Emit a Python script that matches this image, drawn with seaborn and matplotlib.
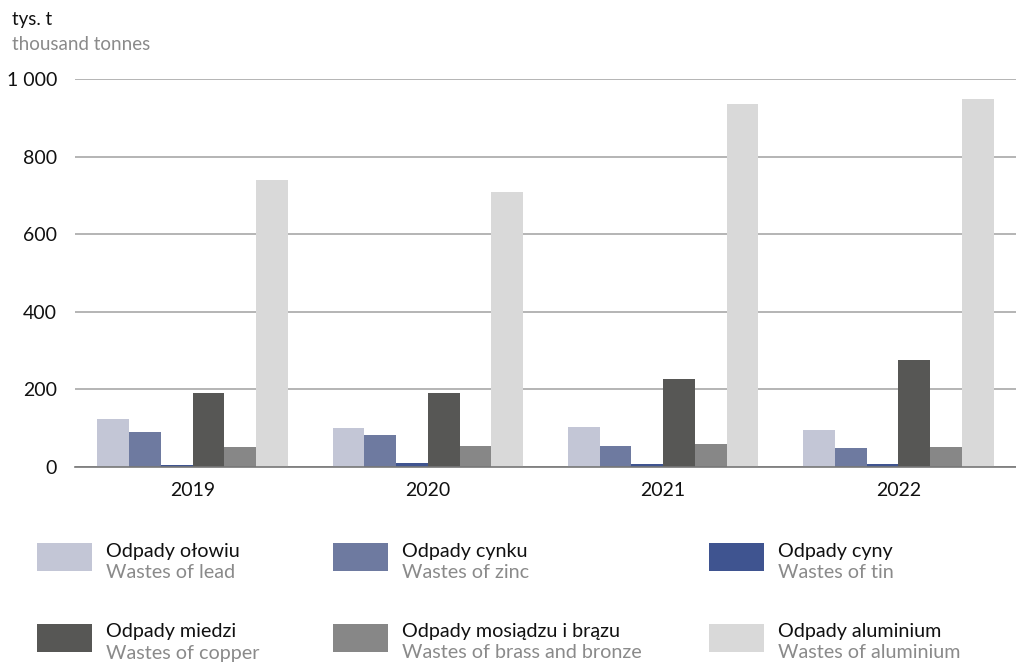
import matplotlib
matplotlib.use("Agg")
import matplotlib.pyplot as plt
import seaborn as sns
import pandas as pd
from matplotlib.patches import Rectangle
from matplotlib.ticker import FuncFormatter

years = ["2019", "2020", "2021", "2022"]
series_pl = ["Odpady ołowiu", "Odpady cynku", "Odpady cyny",
             "Odpady miedzi", "Odpady mosiądzu i brązu", "Odpady aluminium"]
series_en = ["Wastes of lead", "Wastes of zinc", "Wastes of tin",
             "Wastes of copper", "Wastes of brass and bronze", "Wastes of aluminium"]
lead = [122, 99, 102, 94]
zinc = [89, 81, 53, 48]
tin = [4, 9, 7, 7]
copper = [191, 189, 225, 276]
brass = [50, 53, 58, 50]
aluminium = [740, 709, 935, 948]
colors = ["#c3c6d6", "#6e7aa0", "#3f5490", "#575755", "#878787", "#d9d9d9"]

values = [lead, zinc, tin, copper, brass, aluminium]
rows = []
for s, vals in zip(series_pl, values):
    for y, v in zip(years, vals):
        rows.append({"year": y, "series": s, "value": v})
df = pd.DataFrame(rows)

sns.set_theme(style="white")
plt.rcParams["font.family"] = ["Lato", "DejaVu Sans"]

W, H = 1016, 662
fig = plt.figure(figsize=(W / 100, H / 100), dpi=100)
ax = fig.add_axes([75 / W, 1 - 466.7 / H, 1 - 75 / W, (466.7 - 79) / H])

sns.barplot(data=df, x="year", y="value", hue="series", order=years,
            hue_order=series_pl, palette=colors, width=0.81, saturation=1,
            ax=ax, legend=False, linewidth=0)

ax.set_ylim(0, 1000)
ax.set_xlim(-0.5, 3.5)
ax.set_yticks([0, 200, 400, 600, 800, 1000])
ax.yaxis.set_major_formatter(FuncFormatter(lambda v, p: f"{int(v):,}".replace(",", " ")))
ax.grid(axis="y", color="#a8a8a8", linewidth=1.2)
ax.set_axisbelow(True)
for sp in ["top", "right", "left"]:
    ax.spines[sp].set_visible(False)
ax.spines["bottom"].set_color("#777777")
ax.spines["bottom"].set_linewidth(1.2)
ax.set_xlabel("")
ax.set_ylabel("")
ax.tick_params(axis="y", length=0, labelsize=14, pad=13, labelcolor="#111111")
ax.tick_params(axis="x", which="major", length=0, labelsize=14, pad=11, labelcolor="#111111")
ax.set_xticks([0.5, 1.5, 2.5], minor=True)
ax.tick_params(axis="x", which="minor", length=9, direction="inout", color="#777777", width=1.2)

fig.text(12 / W, 1 - 20 / H, "tys. t", fontsize=13.5, color="#111111", va="center", ha="left")
fig.text(12 / W, 1 - 45 / H, "thousand tonnes", fontsize=13.5, color="#8a8a8a", va="center", ha="left")

col_x = [37, 333, 709]
row_y = [543, 624]
for i in range(6):
    r, c = divmod(i, 3)
    x0, y0 = col_x[c], row_y[r]
    fig.add_artist(Rectangle((x0 / W, 1 - (y0 + 28) / H), 55 / W, 28 / H,
                             transform=fig.transFigure, facecolor=colors[i],
                             edgecolor="none"))
    fig.text((x0 + 69) / W, 1 - (y0 + 8) / H, series_pl[i], fontsize=14.2,
             color="#111111", va="center", ha="left")
    fig.text((x0 + 69) / W, 1 - (y0 + 29) / H, series_en[i], fontsize=14.2,
             color="#8a8a8a", va="center", ha="left")

fig.savefig("out.png", dpi=100)
